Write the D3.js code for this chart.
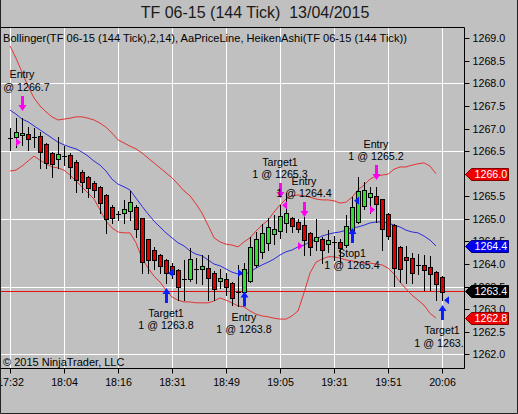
<!DOCTYPE html>
<html><head><meta charset="utf-8">
<script src="https://cdn.jsdelivr.net/npm/d3@7"></script>
<style>
body{margin:0;background:#c0c0c0;overflow:hidden;}
svg{display:block;font-family:"Liberation Sans",Arial,sans-serif;}
</style>
</head><body>
<svg id="c" width="518" height="414"></svg>
<script>
// ---------- data ----------
const titleText = "TF 06-15 (144 Tick)  13/04/2015";
const subtitleText = "Bollinger(TF 06-15 (144 Tick),2,14), AaPriceLine, HeikenAshi(TF 06-15 (144 Tick))";
const copyrightText = "\u00A9 2015 NinjaTrader, LLC";

const timeTickBars = [0, 9, 18, 27, 36, 45, 54, 63, 72];
const timeLabels = ["17:32", "18:04", "18:16", "18:31", "18:49", "19:05", "19:31", "19:51", "20:06"];
const priceTicks = [1262.0, 1262.5, 1263.0, 1263.5, 1264.0, 1264.5, 1265.0, 1265.5, 1266.0, 1266.5, 1267.0, 1267.5, 1268.0, 1268.5, 1269.0];
const gridPrices = [1262.0, 1263.5, 1265.0, 1266.5, 1268.0];

const haOpen = [1266.80,1266.82,1266.86,1266.88,1266.82,1266.84,1266.65,1266.45,1266.33,1266.40,
1266.41,1266.27,1266.04,1265.93,1265.80,1265.71,1265.53,1265.26,1265.11,1265.12,
1265.17,1265.27,1265.01,1264.55,1264.30,1264.20,1264.08,1263.95,1263.86,1263.66,
1263.66,1263.88,1263.88,1263.92,1263.81,1263.62,1263.66,1263.57,1263.39,1263.37,
1263.63,1263.98,1264.27,1264.47,1264.66,1264.73,1264.90,1265.01,1264.93,1264.86,
1264.69,1264.52,1264.56,1264.44,1264.48,1264.49,1264.42,1264.68,1264.94,1265.28,
1265.48,1265.51,1265.43,1265.10,1264.86,1264.38,1264.16,1264.13,1263.98,1263.98,
1263.93,1263.83,1263.72];
const haHigh = [1267.01,1267.23,1267.23,1267.03,1267.01,1266.93,1266.67,1266.49,1266.82,1266.61,
1266.45,1266.30,1266.08,1265.95,1265.85,1265.73,1265.55,1265.30,1265.18,1265.42,
1265.62,1265.31,1265.02,1264.56,1264.38,1264.22,1264.12,1264.02,1263.88,1264.09,
1264.35,1264.13,1264.20,1264.20,1263.85,1263.88,1263.79,1263.60,1263.98,1264.02,
1264.59,1264.72,1264.89,1265.01,1265.09,1265.31,1265.58,1265.05,1265.00,1265.05,
1264.72,1264.99,1264.60,1264.75,1264.62,1264.55,1265.09,1265.49,1265.93,1265.82,
1265.71,1265.71,1265.45,1265.12,1264.88,1264.40,1264.40,1264.25,1264.22,1264.20,
1264.18,1263.85,1263.74];
const haLow = [1266.53,1266.60,1266.64,1266.53,1266.60,1266.12,1266.12,1265.92,1266.12,1266.19,
1265.90,1265.60,1265.60,1265.49,1265.49,1265.12,1264.69,1264.90,1264.97,1264.90,
1264.97,1264.60,1263.79,1263.79,1263.90,1263.79,1263.59,1263.70,1263.20,1263.20,
1263.62,1263.57,1263.56,1263.20,1263.20,1263.46,1263.31,1263.09,1263.07,1263.13,
1263.60,1263.94,1264.13,1264.31,1264.44,1264.57,1264.72,1264.72,1264.70,1264.20,
1264.20,1264.31,1264.02,1264.27,1264.09,1264.05,1264.38,1264.62,1264.90,1265.21,
1265.12,1264.92,1264.31,1264.55,1263.51,1263.61,1263.57,1263.57,1263.78,1263.42,
1263.42,1263.20,1263.20];
const haClose = [1266.80,1266.92,1266.90,1266.78,1266.82,1266.49,1266.24,1266.21,1266.43,1266.40,
1266.14,1265.86,1265.82,1265.68,1265.64,1265.36,1264.99,1265.01,1265.11,1265.21,
1265.37,1264.77,1264.05,1264.08,1264.08,1263.96,1263.81,1263.77,1263.48,1263.66,
1264.11,1263.88,1263.96,1263.70,1263.44,1263.68,1263.48,1263.24,1263.35,1263.90,
1264.37,1264.55,1264.69,1264.83,1264.77,1265.06,1265.12,1264.84,1264.77,1264.53,
1264.38,1264.60,1264.32,1264.53,1264.48,1264.35,1264.84,1265.26,1265.62,1265.65,
1265.57,1265.33,1264.77,1264.62,1263.91,1263.88,1264.10,1263.81,1263.98,1263.87,
1263.78,1263.56,1263.39];

const bbUpper = [1268.83,1268.56,1268.25,1267.94,1267.68,1267.50,1267.37,1267.26,1267.19,1267.21,
1267.23,1267.26,1267.26,1267.23,1267.19,1267.12,1267.03,1266.90,1266.75,1266.68,
1266.61,1266.55,1266.46,1266.35,1266.24,1266.13,1266.02,1265.91,1265.77,1265.62,
1265.51,1265.33,1265.13,1264.86,1264.58,1264.49,1264.44,1264.42,1264.38,1264.49,
1264.58,1264.73,1264.86,1264.97,1265.15,1265.31,1265.44,1265.51,1265.53,1265.51,
1265.48,1265.44,1265.42,1265.42,1265.40,1265.35,1265.37,1265.48,1265.64,1265.75,
1265.88,1265.95,1265.97,1265.99,1266.10,1266.15,1266.15,1266.19,1266.22,1266.24,
1266.17,1266.00];
const bbMiddle = [1267.41,1267.32,1267.21,1267.15,1267.06,1266.97,1266.88,1266.79,1266.70,1266.64,
1266.59,1266.55,1266.48,1266.39,1266.28,1266.19,1266.06,1265.88,1265.77,1265.71,
1265.64,1265.46,1265.28,1265.11,1264.95,1264.82,1264.69,1264.58,1264.47,1264.40,
1264.29,1264.22,1264.18,1264.09,1264.00,1263.96,1263.89,1263.82,1263.78,1263.76,
1263.82,1263.91,1263.98,1264.04,1264.11,1264.20,1264.27,1264.31,1264.38,1264.42,
1264.49,1264.55,1264.62,1264.66,1264.69,1264.71,1264.75,1264.80,1264.82,1264.86,
1264.91,1264.93,1264.93,1264.91,1264.86,1264.82,1264.75,1264.71,1264.69,1264.62,
1264.53,1264.40];
const bbLower = [1266.06,1266.08,1266.17,1266.28,1266.39,1266.30,1266.22,1266.15,1266.13,1266.08,
1265.97,1265.84,1265.71,1265.57,1265.44,1265.20,1264.95,1264.80,1264.71,1264.69,
1264.69,1264.47,1264.13,1263.91,1263.73,1263.60,1263.42,1263.27,1263.20,1263.16,
1263.16,1263.14,1263.14,1263.14,1263.18,1263.25,1263.20,1263.14,1263.07,1263.05,
1262.96,1262.89,1262.85,1262.83,1262.80,1262.78,1262.78,1262.85,1262.96,1263.36,
1263.80,1264.04,1264.11,1264.16,1264.16,1264.13,1264.09,1264.07,1264.04,1264.02,
1264.02,1264.00,1263.98,1263.91,1263.78,1263.60,1263.45,1263.31,1263.20,1263.09,
1262.91,1262.80];

const lastPrice = 1263.4;

const execBar = [2, 26, 39, 45, 49, 57, 61, 72];
const execSide = ["sell", "buy", "buy", "sell", "sell", "buy", "sell", "buy"];
const execName = ["Entry", "Target1", "Entry", "Target1", "Entry", "Stop1", "Entry", "Target1"];
const execQty = [1, 1, 1, 1, 1, 1, 1, 1];
const execPrice = [1266.7, 1263.8, 1263.8, 1265.3, 1264.4, 1265.4, 1265.2, 1263.2];
const execArrowPrice = [1267.39, 1263.47, 1263.39, 1265.46, 1265.04, 1264.80, 1265.86, 1263.09];

// ---------- layout ----------
const W = 518, H = 414;
const plot = {l: 0, t: 27, r: 464, b: 368};
const svg = d3.select("#c");
const fs = 10.7;

const x = d3.scaleLinear().domain([0, 72]).range([10, 442]);
const y = d3.scaleLinear().domain([1262, 1269]).range([354.3, 38.3]);
const ry = v => Math.round(y(v));

svg.append("rect").attr("width", W).attr("height", H).attr("fill", "#c0c0c0");

const defs = svg.append("defs");
defs.append("clipPath").attr("id", "pc").append("rect")
  .attr("x", 1).attr("y", plot.t + 1).attr("width", plot.r - 1).attr("height", plot.b - plot.t - 1);
defs.append("clipPath").attr("id", "xc2").append("rect").attr("x", 1).attr("y", 0).attr("width", W).attr("height", 40);

// grid
const grid = svg.append("g").attr("clip-path", "url(#pc)");
grid.selectAll("line.v").data(timeTickBars).join("line")
  .attr("x1", d => Math.round(x(d)) + 0.5).attr("x2", d => Math.round(x(d)) + 0.5)
  .attr("y1", plot.t).attr("y2", plot.b).attr("stroke", "#ffffff").attr("stroke-width", 1);
grid.selectAll("line.h").data(gridPrices).join("line")
  .attr("x1", plot.l).attr("x2", plot.r).attr("y1", d => ry(d) + 0.5).attr("y2", d => ry(d) + 0.5)
  .attr("stroke", "#ffffff").attr("stroke-width", 1);

// plot content
const pg = svg.append("g").attr("clip-path", "url(#pc)");

// price line
pg.append("line").attr("x1", 0).attr("x2", plot.r).attr("y1", ry(lastPrice) + 0.5).attr("y2", ry(lastPrice) + 0.5)
  .attr("stroke", "#e81010").attr("stroke-width", 1);

// bollinger
const line = d3.line().x((d, i) => x(i)).y(d => y(d));
pg.append("path").attr("d", line(bbUpper)).attr("fill", "none").attr("stroke", "#e23434").attr("stroke-width", 1);
pg.append("path").attr("d", line(bbLower)).attr("fill", "none").attr("stroke", "#e23434").attr("stroke-width", 1);
pg.append("path").attr("d", line(bbMiddle)).attr("fill", "none").attr("stroke", "#2b2bdc").attr("stroke-width", 1);

// candles
const idx = d3.range(haOpen.length);
const cg = pg.append("g");
idx.forEach(i => {
  const X = Math.round(x(i));
  const o = y(haOpen[i]), c = y(haClose[i]);
  cg.append("line").attr("x1", X + 0.5).attr("x2", X + 0.5)
    .attr("y1", Math.round(y(haHigh[i]))).attr("y2", Math.round(y(haLow[i])) + 1)
    .attr("stroke", "#000").attr("stroke-width", 1);
  const top = Math.round(Math.min(o, c)), bot = Math.round(Math.max(o, c));
  if (bot - top < 2) {
    cg.append("line").attr("x1", X - 2).attr("x2", X + 3)
      .attr("y1", top + 0.5).attr("y2", top + 0.5).attr("stroke", "#000").attr("stroke-width", 1);
  } else {
    cg.append("rect").attr("x", X - 1.5).attr("y", top + 0.5).attr("width", 4).attr("height", bot - top)
      .attr("fill", haClose[i] >= haOpen[i] ? "#33dd33" : "#dd0000")
      .attr("stroke", "#000").attr("stroke-width", 1);
  }
});

// executions
const mg = pg.append("g");
execBar.forEach((b, k) => {
  const X = Math.round(x(b));
  const col = execSide[k] === "buy" ? "#0a1eff" : "#ff00f0";
  const ty = y(execArrowPrice[k]);
  let p;
  if (execSide[k] === "buy") {
    p = `M${X + 0.5},${ty} L${X + 4.5},${ty + 6} L${X + 2},${ty + 6} L${X + 2},${ty + 15} L${X - 1},${ty + 15} L${X - 1},${ty + 6} L${X - 3.5},${ty + 6} Z`;
  } else {
    p = `M${X + 0.5},${ty} L${X + 4.5},${ty - 6} L${X + 2},${ty - 6} L${X + 2},${ty - 15} L${X - 1},${ty - 15} L${X - 1},${ty - 6} L${X - 3.5},${ty - 6} Z`;
  }
  mg.append("path").attr("d", p).attr("fill", col);
  const fy = y(execPrice[k]);
  let tp;
  if (execName[k] === "Entry") {
    const tip = X - 1;
    tp = `M${tip},${fy} L${tip - 5},${fy - 4} L${tip - 5},${fy + 4} Z`;
  } else {
    const tip = X + 2;
    tp = `M${tip},${fy} L${tip + 5},${fy - 4} L${tip + 5},${fy + 4} Z`;
  }
  mg.append("path").attr("d", tp).attr("fill", col);
  const l1 = execName[k], l2 = execQty[k] + " @ " + execPrice[k].toFixed(1);
  let b1, b2;
  if (execSide[k] === "buy") { b1 = ty + 29; b2 = b1 + 12.5; }
  else { b2 = ty - 20; b1 = b2 - 12.5; }
  mg.append("text").attr("x", X).attr("y", b1).attr("text-anchor", "middle")
    .attr("font-size", fs).attr("fill", "#000").text(l1);
  mg.append("text").attr("x", X).attr("y", b2).attr("text-anchor", "middle")
    .attr("font-size", fs).attr("fill", "#000").text(l2);
});

// copyright
svg.append("text").attr("x", 3).attr("y", 365.5).attr("font-size", 11).attr("fill", "#000").text(copyrightText);
// subtitle
svg.append("text").attr("x", 3).attr("y", 42).attr("font-size", 11.1).attr("fill", "#000").text(subtitleText);

// y axis
const yAxis = d3.axisRight(y).tickValues(priceTicks).tickSize(5).tickSizeOuter(0).tickPadding(3)
  .tickFormat(d3.format(".1f"));
const yg = svg.append("g").attr("transform", `translate(${plot.r + 0.5},0)`).call(yAxis);
yg.select(".domain").remove();
yg.selectAll(".tick").attr("transform", d => `translate(0,${ry(d) + 0.5})`);
yg.selectAll(".tick line").attr("stroke", "#000");
yg.selectAll(".tick text").attr("font-size", fs).attr("fill", "#000")
  .attr("font-family", '"Liberation Sans",Arial,sans-serif');

// x axis
const xAxis = d3.axisBottom(x).tickValues(timeTickBars).tickSize(5).tickSizeOuter(0).tickPadding(5)
  .tickFormat((d, i) => timeLabels[i]);
const xg = svg.append("g").attr("transform", `translate(0,${plot.b + 0.5})`).attr("clip-path", "url(#xc2)").call(xAxis);
xg.select(".domain").remove();
xg.selectAll(".tick").attr("transform", d => `translate(${Math.round(x(d)) + 0.5},0)`);
xg.selectAll(".tick line").attr("stroke", "#000");
xg.selectAll(".tick text").attr("font-size", fs).attr("fill", "#000")
  .attr("font-family", '"Liberation Sans",Arial,sans-serif');

// frame
const fr = svg.append("g").attr("stroke", "#000").attr("stroke-width", 1).attr("fill", "none");
fr.append("path").attr("d", `M0,${plot.t + 0.5} H${plot.r + 0.5} V${plot.b + 0.5} H0`);
fr.append("path").attr("d", `M0.5,0 V${H - 0.5} H${W - 0.5} V0`).attr("stroke", "#222");

// price markers on axis
const markers = [
  {v: bbUpper[bbUpper.length - 1], fill: "#ee0000", stroke: "#800000"},
  {v: bbMiddle[bbMiddle.length - 1], fill: "#0000ee", stroke: "#000080"},
  {v: lastPrice, fill: "#000000", stroke: "#000000"},
  {v: bbLower[bbLower.length - 1], fill: "#ee0000", stroke: "#800000"}
];
const pmg = svg.append("g");
markers.forEach(m => {
  const cy = ry(m.v) + 0.5;
  const x0 = plot.r + 1.5;
  pmg.append("path")
    .attr("d", `M${x0},${cy} L${x0 + 6},${cy - 6} H${x0 + 43} V${cy + 6} H${x0 + 6} Z`)
    .attr("fill", m.fill).attr("stroke", m.stroke).attr("stroke-width", 1);
  pmg.append("text").attr("x", x0 + 9).attr("y", cy).attr("dy", "0.36em")
    .attr("font-size", fs).attr("fill", "#fff").text(d3.format(".1f")(m.v));
});

// title
svg.append("text").attr("x", 255).attr("y", 18).attr("text-anchor", "middle")
  .attr("font-size", 16).attr("fill", "#1a1a1a").style("white-space", "pre").text(titleText);
</script>
</body></html>
